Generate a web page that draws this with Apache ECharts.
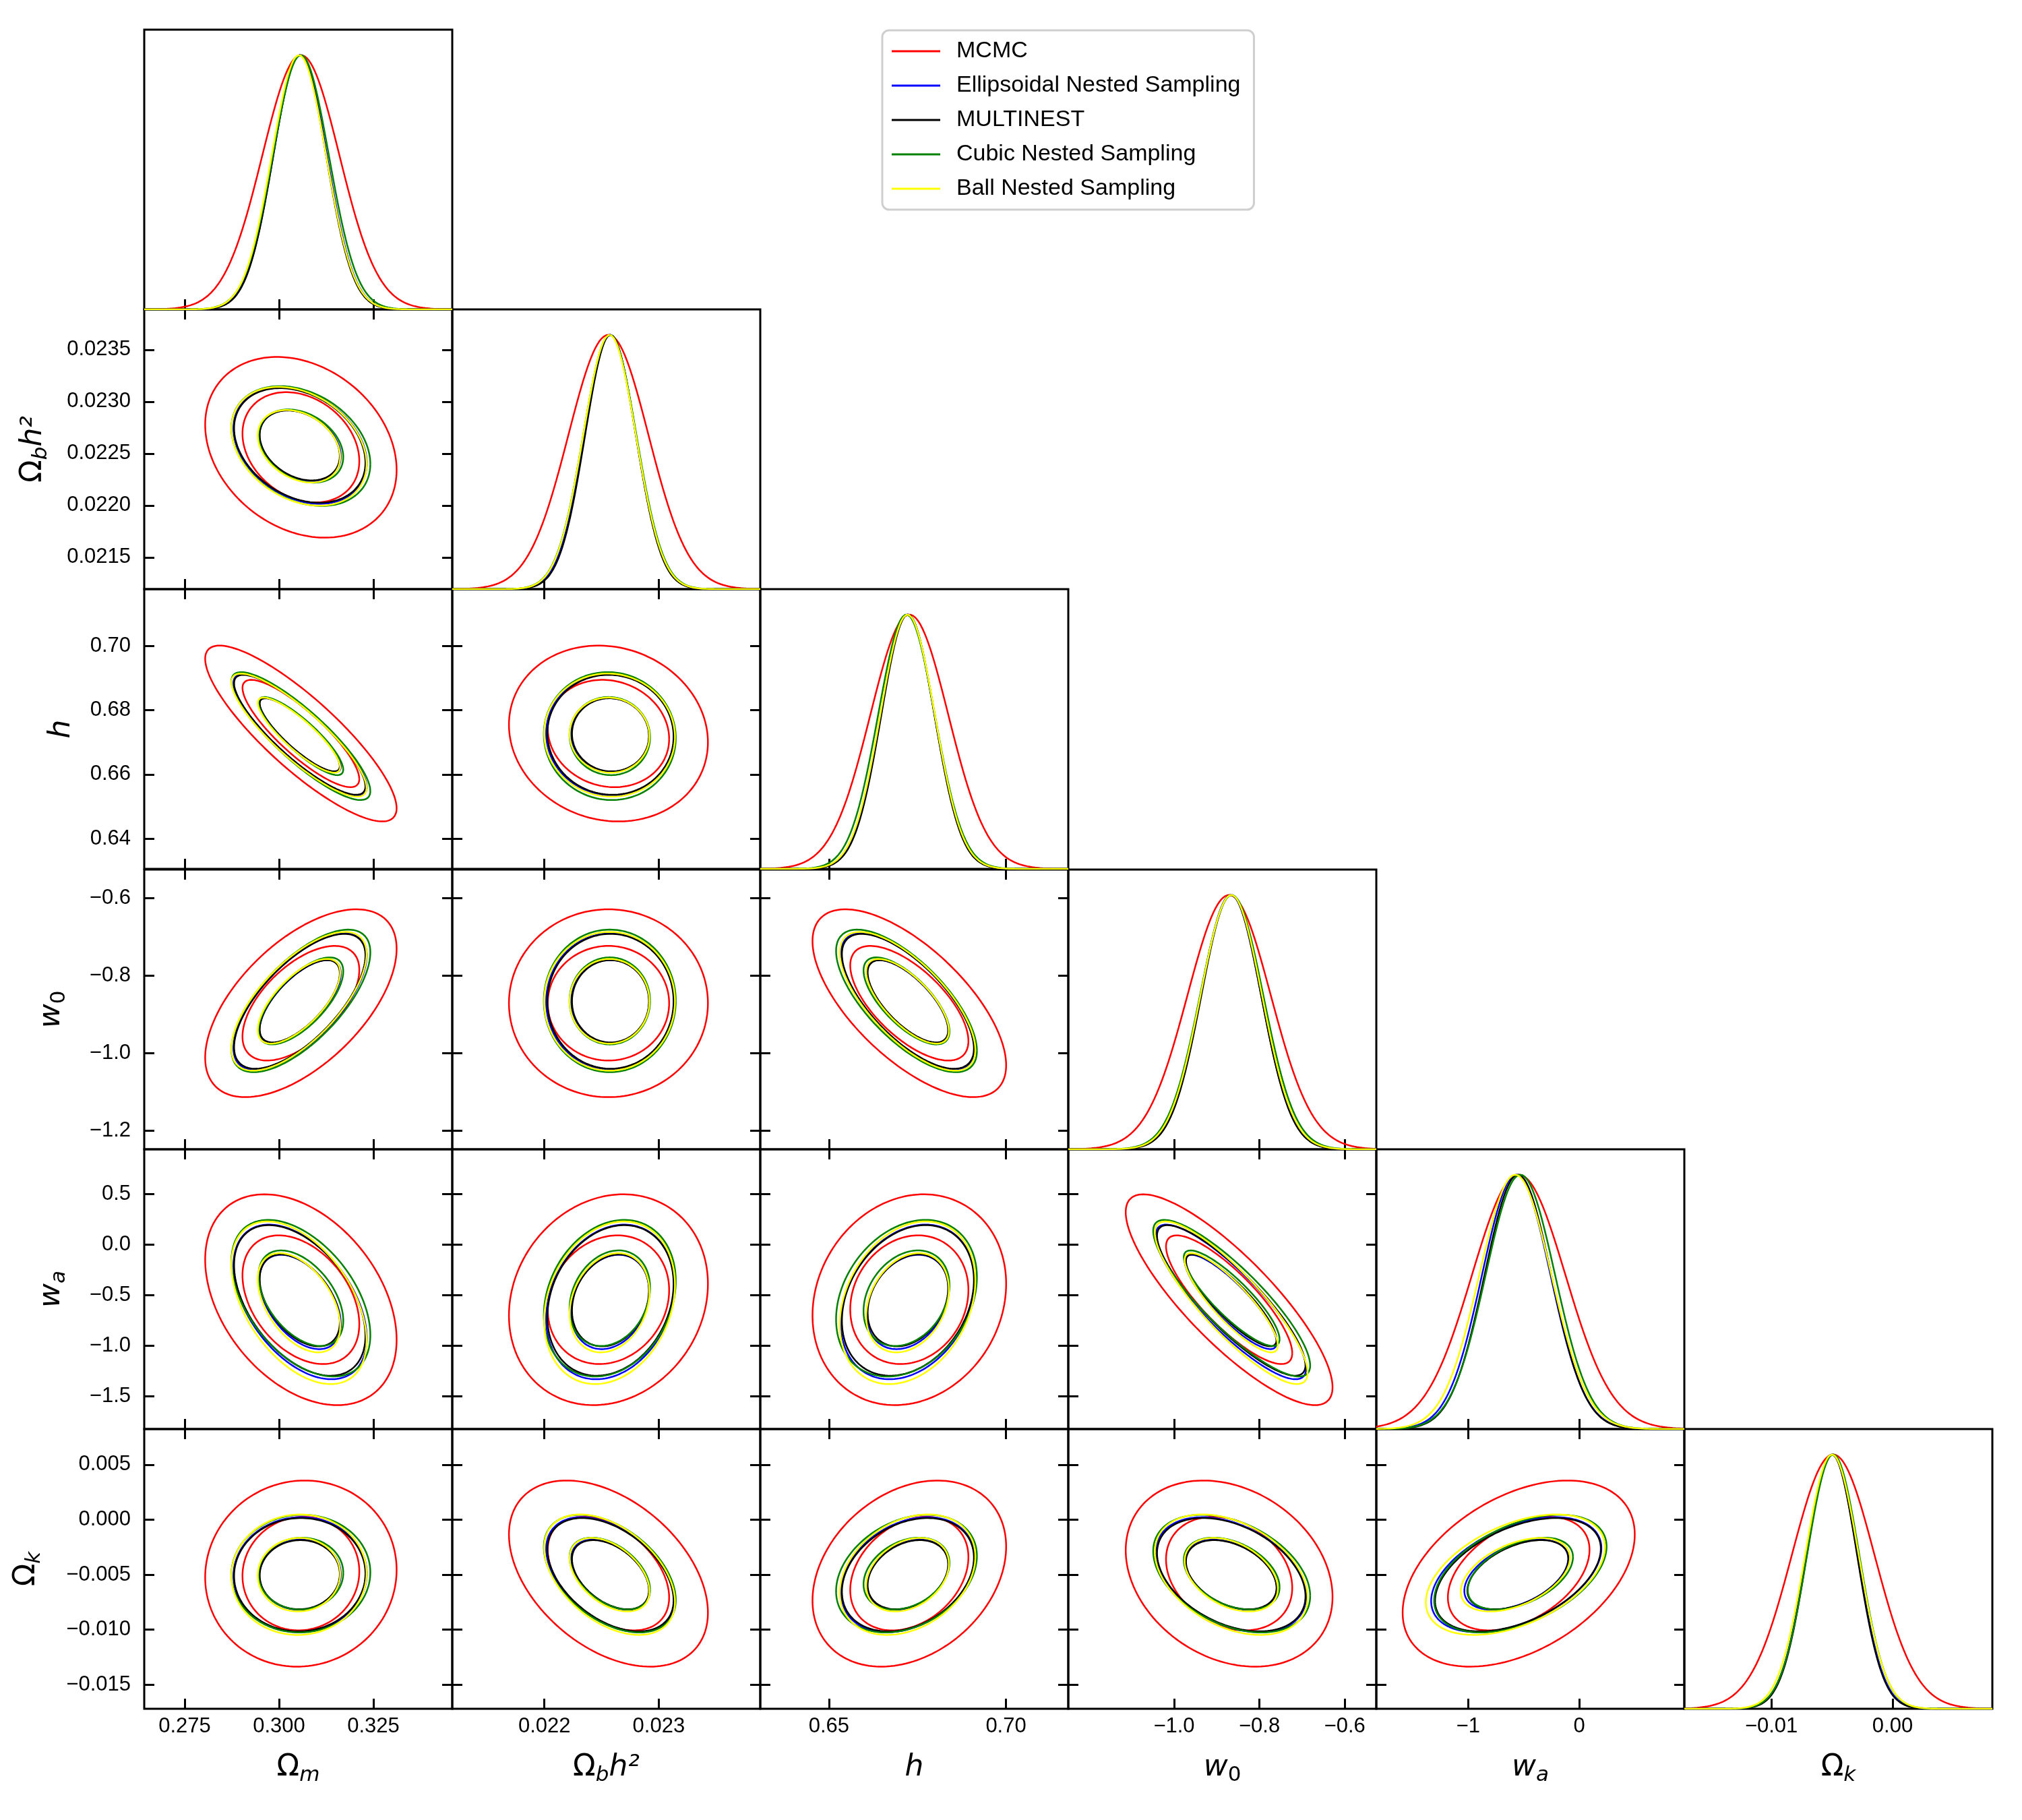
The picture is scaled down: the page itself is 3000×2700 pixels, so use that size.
<!DOCTYPE html>
<html>
<head>
<meta charset="utf-8">
<script src="https://cdn.jsdelivr.net/npm/echarts@6/dist/echarts.min.js"></script>
<style>
  html, body { margin: 0; background: #fff; }
  #chart { width: 3000px; height: 2700px; }
</style>
</head>
<body>
<div id="chart"></div>
<script>
// parameters, in panel order: Ωm, Ωbh², h, w0, wa, Ωk
const paramNames = [
  '{o|Ω}{s|m}',
  '{o|Ω}{s|b}{i|h²}',
  '{i|h}',
  '{i|w}{n|0}',
  '{i|w}{s|a}',
  '{o|Ω}{s|k}'
]
const methodNames = ['MCMC', 'Ellipsoidal Nested Sampling', 'MULTINEST', 'Cubic Nested Sampling', 'Ball Nested Sampling']
const methodColors = ['#ff0000', '#0000ff', '#000000', '#008000', '#ffff00']

// posterior means
const meanMCMC        = [0.3058, 0.022560, 0.6727, -0.871, -0.545, -0.00490]
const meanEllipsoidal = [0.3056, 0.022575, 0.6722, -0.867, -0.567, -0.00500]
const meanMultinest   = [0.3055, 0.022578, 0.6723, -0.866, -0.552, -0.00500]
const meanCubic       = [0.3058, 0.022572, 0.6719, -0.865, -0.530, -0.00490]
const meanBall        = [0.3053, 0.022570, 0.6722, -0.866, -0.575, -0.00500]

// posterior standard deviations
const sdMCMC        = [0.0102, 0.000350, 0.0110, 0.0975, 0.420, 0.00340]
const sdEllipsoidal = [0.0071, 0.000225, 0.0076, 0.0710, 0.308, 0.00210]
const sdMultinest   = [0.0070, 0.000222, 0.0075, 0.0700, 0.300, 0.00207]
const sdCubic       = [0.0074, 0.000232, 0.0080, 0.0740, 0.312, 0.00215]
const sdBall        = [0.0072, 0.000230, 0.0077, 0.0720, 0.324, 0.00220]

// lower triangle panels [row param, column param] and their correlations
const panelPairs = [[1, 0], [2, 0], [2, 1], [3, 0], [3, 1], [3, 2], [4, 0], [4, 1], [4, 2], [4, 3], [5, 0], [5, 1], [5, 2], [5, 3], [5, 4]]
const corrMCMC   = [-0.25, -0.85, -0.10, 0.58, 0.00, -0.66, -0.38, 0.15, 0.15, -0.83, 0.04, -0.42, 0.29, -0.25, 0.42]
const corrNested = [-0.30, -0.86, -0.03, 0.68, 0.00, -0.70, -0.47, 0.22, 0.27, -0.86, 0.02, -0.45, 0.30, -0.38, 0.46]

// 68% and 95% contours (radius in sigma for a 2D gaussian)
const contourLevels = [1.517, 2.486]

// axis extents
const axisMin = [0.2643, 0.021194, 0.6306, -1.248, -1.826, -0.01718]
const axisMax = [0.3459, 0.023888, 0.7176, -0.526, 0.945, 0.00823]

// tick values / labels when the parameter is on the x axis
const xTickValues = [[0.275, 0.300, 0.325], [0.022, 0.023], [0.65, 0.70], [-1.0, -0.8, -0.6], [-1, 0], [-0.01, 0.00]]
const xTickLabels = [['0.275', '0.300', '0.325'], ['0.022', '0.023'], ['0.65', '0.70'], ['−1.0', '−0.8', '−0.6'], ['−1', '0'], ['−0.01', '0.00']]
// ... and on the y axis
const yTickValues = [[], [0.0235, 0.0230, 0.0225, 0.0220, 0.0215], [0.70, 0.68, 0.66, 0.64], [-0.6, -0.8, -1.0, -1.2], [0.5, 0.0, -0.5, -1.0, -1.5], [0.005, 0.000, -0.005, -0.010, -0.015]]
const yTickLabels = [[], ['0.0235', '0.0230', '0.0225', '0.0220', '0.0215'], ['0.70', '0.68', '0.66', '0.64'], ['−0.6', '−0.8', '−1.0', '−1.2'], ['0.5', '0.0', '−0.5', '−1.0', '−1.5'], ['0.005', '0.000', '−0.005', '−0.010', '−0.015']]

// ---- layout ----
const colLeft = [214, 671, 1128, 1585, 2042, 2499]
const rowTop = [44, 459, 874, 1290, 1705, 2120]
const panelW = 457
const panelH = 415
const yNameGap = [0, 138, 96, 111, 111, 148]
const tickFont = '"Liberation Sans", Arial, sans-serif'
const mathFont = '"DejaVu Sans", sans-serif'

const means = [meanMCMC, meanEllipsoidal, meanMultinest, meanCubic, meanBall]
const sds = [sdMCMC, sdEllipsoidal, sdMultinest, sdCubic, sdBall]

const nameRich = {
  o: {fontSize: 44, fontFamily: mathFont, lineHeight: 48, verticalAlign: 'top', color: '#000'},
  i: {fontSize: 44, fontFamily: mathFont, fontStyle: 'italic', lineHeight: 48, verticalAlign: 'top', color: '#000'},
  s: {fontSize: 31, fontFamily: mathFont, fontStyle: 'italic', lineHeight: 31, padding: [19, 0, 0, 0], verticalAlign: 'bottom', color: '#000'},
  n: {fontSize: 31, fontFamily: mathFont, lineHeight: 31, padding: [19, 0, 0, 0], verticalAlign: 'bottom', color: '#000'}
}

function labelLookup (values, labels) {
  return function (v) {
    for (let i = 0; i < values.length; i++) {
      if (Math.abs(values[i] - v) < 1e-9) return labels[i]
    }
    return ''
  }
}

function tickStyle (values) {
  return {
    show: true,
    inside: true,
    length: 15,
    customValues: values,
    lineStyle: {color: '#000', width: 3}
  }
}

const grids = []
const xAxes = []
const yAxes = []
const series = []

function xAxisOf (gi, p, position, withTicks, withLabels) {
  return {
    type: 'value',
    gridIndex: gi,
    position: position,
    min: axisMin[p],
    max: axisMax[p],
    axisLine: {show: false, onZero: false},
    splitLine: {show: false},
    axisTick: withTicks ? tickStyle(xTickValues[p]) : {show: false},
    axisLabel: {
      show: withLabels,
      customValues: xTickValues[p],
      formatter: labelLookup(xTickValues[p], xTickLabels[p]),
      fontSize: 31,
      fontFamily: tickFont,
      color: '#000',
      margin: 11
    },
    name: withLabels ? paramNames[p] : '',
    nameLocation: 'middle',
    nameGap: 66,
    nameTextStyle: {rich: nameRich}
  }
}

function yAxisOf (gi, p, position, withTicks, withLabels) {
  return {
    type: 'value',
    gridIndex: gi,
    position: position,
    min: axisMin[p],
    max: axisMax[p],
    axisLine: {show: false, onZero: false},
    splitLine: {show: false},
    axisTick: withTicks ? tickStyle(yTickValues[p]) : {show: false},
    axisLabel: {
      show: withLabels,
      customValues: yTickValues[p],
      formatter: labelLookup(yTickValues[p], yTickLabels[p]),
      fontSize: 31,
      fontFamily: tickFont,
      color: '#000',
      margin: 20
    },
    name: withLabels ? paramNames[p] : '',
    nameLocation: 'middle',
    nameRotate: 90,
    nameGap: yNameGap[p],
    nameTextStyle: {rich: nameRich}
  }
}

function addGrid (row, col) {
  grids.push({
    left: colLeft[col],
    top: rowTop[row],
    width: panelW,
    height: panelH,
    show: true,
    borderColor: '#000',
    borderWidth: 3,
    backgroundColor: 'transparent',
    containLabel: false,
    outerBoundsMode: 'none'
  })
  return grids.length - 1
}

function lineSeries (m, xi, yi, data) {
  return {
    type: 'line',
    name: methodNames[m],
    xAxisIndex: xi,
    yAxisIndex: yi,
    data: data,
    symbol: 'none',
    showSymbol: false,
    smooth: false,
    silent: true,
    animation: false,
    lineStyle: {color: methodColors[m], width: 2.5},
    itemStyle: {color: methodColors[m]}
  }
}

// diagonal: 1D marginals
for (let p = 0; p < 6; p++) {
  const gi = addGrid(p, p)
  const xi = xAxes.length
  xAxes.push(xAxisOf(gi, p, 'bottom', true, p === 5))
  const yi = yAxes.length
  yAxes.push({type: 'value', gridIndex: gi, min: 0, max: 1.1, show: false})
  for (let m = 0; m < methodNames.length; m++) {
    const mu = means[m][p]
    const sd = sds[m][p]
    const pts = []
    const n = 240
    for (let k = 0; k <= n; k++) {
      const x = axisMin[p] + (axisMax[p] - axisMin[p]) * k / n
      const z = (x - mu) / sd
      pts.push([x, Math.exp(-0.5 * z * z)])
    }
    series.push(lineSeries(m, xi, yi, pts))
  }
}

// lower triangle: 2D contours
panelPairs.forEach(function (pair, idx) {
  const row = pair[0]
  const col = pair[1]
  const gi = addGrid(row, col)
  const xi = xAxes.length
  xAxes.push(xAxisOf(gi, col, 'bottom', true, row === 5))
  xAxes.push(xAxisOf(gi, col, 'top', true, false))
  const yi = yAxes.length
  yAxes.push(yAxisOf(gi, row, 'left', true, col === 0))
  yAxes.push(yAxisOf(gi, row, 'right', true, false))
  for (let m = 0; m < methodNames.length; m++) {
    const rho = m === 0 ? corrMCMC[idx] : corrNested[idx]
    const mx = means[m][col]
    const my = means[m][row]
    const sx = sds[m][col]
    const sy = sds[m][row]
    contourLevels.forEach(function (r) {
      const pts = []
      const n = 160
      for (let k = 0; k <= n; k++) {
        const t = 2 * Math.PI * k / n
        const u = r * Math.cos(t)
        const v = r * Math.sin(t)
        pts.push([mx + sx * u, my + sy * (rho * u + Math.sqrt(1 - rho * rho) * v)])
      }
      series.push(lineSeries(m, xi, yi, pts))
    })
  }
})

const option = {
  backgroundColor: '#ffffff',
  animation: false,
  legend: {
    data: methodNames.map(function (n) { return {name: n, icon: 'rect'} }),
    orient: 'vertical',
    left: 1309,
    top: 45,
    padding: [14, 20, 14, 14],
    itemWidth: 72,
    itemHeight: 3,
    itemGap: 17,
    selectedMode: false,
    backgroundColor: '#ffffff',
    borderColor: '#cfcfcf',
    borderWidth: 3,
    borderRadius: 10,
    textStyle: {
      fontSize: 34,
      lineHeight: 34,
      fontFamily: tickFont,
      color: '#000',
      padding: [0, 0, 0, 19]
    }
  },
  grid: grids,
  xAxis: xAxes,
  yAxis: yAxes,
  series: series
}

const myChart = echarts.init(document.getElementById('chart'), null, {renderer: 'canvas'})
myChart.setOption(option)
</script>
</body>
</html>
